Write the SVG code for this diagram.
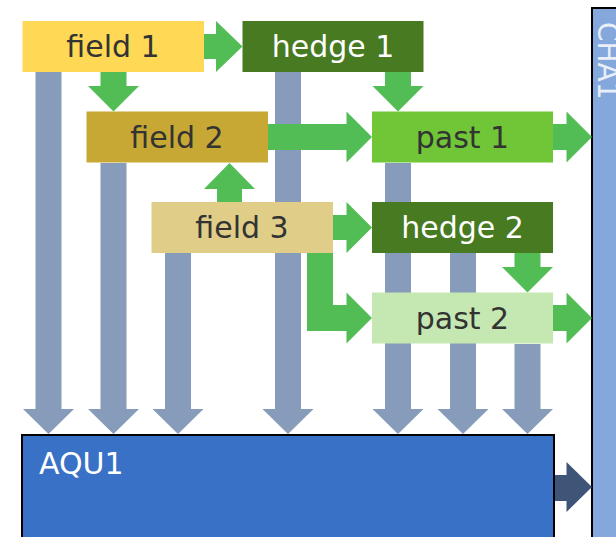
<svg xmlns="http://www.w3.org/2000/svg" width="616" height="537" viewBox="0 0 616 537">
<style>
.lbl{font-family:"DejaVu Sans",sans-serif;font-size:30px;text-anchor:middle}
.dk{fill:#333333}
.wt{fill:#ffffff}
.g{fill:#53bd55}
.b{fill:#869cba}
</style>
<rect width="616" height="537" fill="#ffffff"/>
<g id="CHA1">
<rect x="592" y="8" width="40" height="540" fill="#84a8dc" stroke="#000000" stroke-width="2"/>
<text transform="translate(598,22) rotate(90)" font-family="DejaVu Sans, sans-serif" font-size="28" fill="#e9eff9">CHA1</text>
</g>
<g id="connectors">
<polygon class="b" points="35.5,72 61.5,72 61.5,409 74,409 48.5,434 23,409 35.5,409"/>
<polygon class="b" points="100.5,163 126.5,163 126.5,409 139,409 113.5,434 88,409 100.5,409"/>
<polygon class="b" points="165,253 191,253 191,409 203.5,409 178,434 152.5,409 165,409"/>
<polygon class="b" points="275,72 301,72 301,409 313.5,409 288,434 262.5,409 275,409"/>
<polygon class="b" points="385,163 411,163 411,409 423.5,409 398,434 372.5,409 385,409"/>
<polygon class="b" points="450,253 476,253 476,409 488.5,409 463,434 437.5,409 450,409"/>
<polygon class="b" points="514.5,344 540.5,344 540.5,409 553,409 527.5,434 502,409 514.5,409"/>
<polygon class="g" points="204,34 216,34 216,21 242.5,46.5 216,72 216,59 204,59"/>
<polygon class="g" points="100.5,72 126.5,72 126.5,86 139,86 113.5,111.5 88,86 100.5,86"/>
<polygon class="g" points="385,72 411,72 411,86 423.5,86 398,111.5 372.5,86 385,86"/>
<polygon class="g" points="268,124 346.5,124 346.5,111.5 372,137 346.5,162.5 346.5,150 268,150"/>
<polygon class="g" points="553,124 566.5,124 566.5,111.5 592,137 566.5,162.5 566.5,150 553,150"/>
<polygon class="g" points="217,202 242,202 242,189 255,189 229.5,163 204,189 217,189"/>
<polygon class="g" points="333,215 346.5,215 346.5,202 372,227.5 346.5,253 346.5,240 333,240"/>
<polygon class="g" points="514.5,253 540.5,253 540.5,267 553,267 527.5,292.5 502,267 514.5,267"/>
<polygon class="g" points="307,253 333,253 333,305 346.5,305 346.5,292.5 372,318 346.5,343.5 346.5,331 307,331"/>
<polygon class="g" points="553,305 566.5,305 566.5,292.5 592,318 566.5,343.5 566.5,331 553,331"/>
<polygon fill="#3e5577" points="554,475 566.5,475 566.5,462 592,487 566.5,512 566.5,501 554,501"/>
</g>
<g id="field1">
<rect x="22.5" y="21" width="181.5" height="51" fill="#ffd955"/>
<text class="lbl dk" x="113" y="57">field 1</text>
</g>
<g id="hedge1">
<rect x="242.5" y="21" width="181" height="51" fill="#477a21"/>
<text class="lbl wt" x="333" y="57">hedge 1</text>
</g>
<g id="field2">
<rect x="86.5" y="111.5" width="181.5" height="51" fill="#c7a834"/>
<text class="lbl dk" x="177" y="147.5">field 2</text>
</g>
<g id="past1">
<rect x="372" y="111.5" width="181" height="51" fill="#70c637"/>
<text class="lbl dk" x="462.5" y="147.5">past 1</text>
</g>
<g id="field3">
<rect x="151.5" y="202" width="181.5" height="51" fill="#dfcd88"/>
<text class="lbl dk" x="242" y="238">field 3</text>
</g>
<g id="hedge2">
<rect x="372" y="202" width="181" height="51" fill="#477a21"/>
<text class="lbl wt" x="462.5" y="238">hedge 2</text>
</g>
<g id="past2">
<rect x="372" y="292.5" width="181" height="51" fill="#c5e8b2"/>
<text class="lbl dk" x="462.5" y="328.5">past 2</text>
</g>
<g id="AQU1">
<rect x="22" y="435" width="532" height="110" fill="#3871c6" stroke="#000000" stroke-width="2"/>
<text x="39" y="474" font-family="DejaVu Sans, sans-serif" font-size="30" fill="#ffffff">AQU1</text>
</g>
</svg>
